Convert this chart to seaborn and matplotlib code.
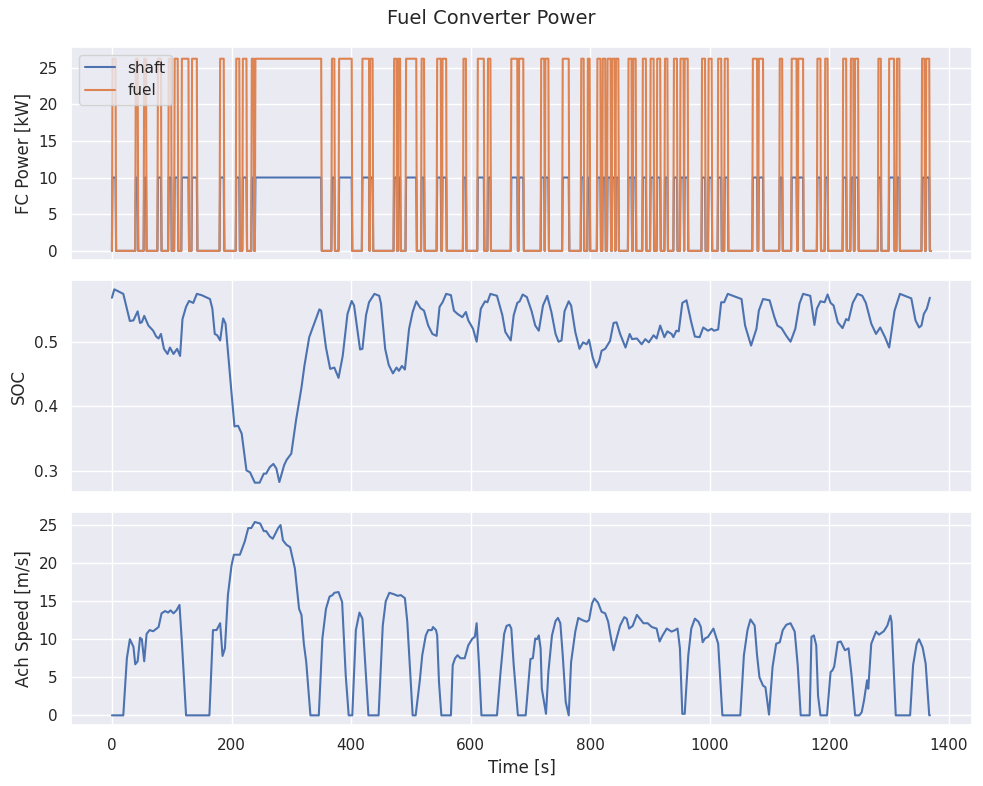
import numpy as np
import pandas as pd
import matplotlib
matplotlib.use("Agg")
import matplotlib.pyplot as plt
import seaborn as sns

# ---------------- data ----------------
# fuel converter on-intervals [s]
fc_on_start = [1, 40, 54, 77, 94.5, 105, 116.5, 134, 180.5, 208, 219, 234, 240,
               368, 380, 419, 432, 472, 479, 492, 518, 544, 553, 588, 612, 629, 668, 681,
               718, 725, 754, 785, 796, 812, 821, 829, 837, 843, 864, 872, 888, 901, 912,
               925, 940, 951, 958, 987, 998, 1014, 1025,
               1072, 1082, 1117, 1137, 1148, 1180, 1193, 1223, 1236, 1243, 1282, 1300,
               1313, 1355, 1362]
fc_on_end = [7, 44, 58, 83, 99.5, 110.5, 129, 143, 188, 214, 226, 238, 351,
             373, 402, 431, 437, 477, 483, 510, 523, 551, 560, 593, 623, 634, 679, 689,
             724, 731, 765, 790, 800, 818, 826, 835, 842, 848, 870, 877, 894, 907, 918,
             930, 946, 957, 964, 993, 1004, 1020, 1031,
             1080, 1090, 1122, 1146, 1157, 1186, 1198, 1229, 1241, 1249, 1287, 1309,
             1318, 1360, 1368]
fc_shaft_kw = 10.0
fc_fuel_kw = 26.2
t_end = 1370

soc_t = [0, 4, 19, 25, 30, 36, 43, 47, 50, 54, 61, 69, 74, 78, 82, 87, 93, 97, 103, 109,
         114, 118, 124, 129, 136, 142, 150, 164, 168, 172, 176, 181, 186, 190, 196, 200,
         205, 211, 217, 225, 231, 239, 247, 254, 258, 264, 270, 275, 280, 288, 292, 300,
         308, 317, 322, 330, 347, 350, 358, 365, 372, 379, 386, 394, 401, 405, 411, 415,
         419, 425, 430, 439, 447, 450, 457, 463, 470, 476, 480, 485, 490, 497, 503, 509,
         516, 522, 529, 536, 543, 548, 553, 559, 567, 572, 578, 586, 592, 596, 604, 610,
         617, 624, 628, 633, 644, 653, 658, 667, 672, 678, 682, 687, 694, 702, 708, 714,
         721, 728, 735, 742, 747, 752, 757, 764, 768, 775, 782, 788, 794, 798, 804, 810,
         815, 819, 825, 833, 839, 844, 850, 859, 866, 870, 878, 886, 892, 898, 906, 911,
         917, 924, 929, 936, 939, 944, 948, 954, 961, 969, 975, 983, 989, 997, 1003, 1007,
         1014, 1019, 1024, 1030, 1053, 1059, 1069, 1078, 1082, 1089, 1100, 1108, 1113,
         1120, 1128, 1135, 1143, 1150, 1156, 1168, 1175, 1179, 1185, 1192, 1197, 1202,
         1207, 1214, 1222, 1228, 1232, 1239, 1247, 1255, 1261, 1270, 1278, 1285, 1293,
         1300, 1309, 1318, 1337, 1344, 1350, 1354, 1358, 1363, 1368]
soc_v = [0.568, 0.581, 0.574, 0.551, 0.532, 0.533, 0.547, 0.529, 0.530, 0.540, 0.525, 0.517,
         0.508, 0.505, 0.512, 0.489, 0.481, 0.491, 0.481, 0.489, 0.478, 0.535, 0.554, 0.563,
         0.560, 0.574, 0.572, 0.566, 0.551, 0.512, 0.510, 0.502, 0.536, 0.528, 0.463, 0.421,
         0.369, 0.370, 0.358, 0.301, 0.298, 0.282, 0.282, 0.296, 0.296, 0.306, 0.311, 0.304,
         0.283, 0.309, 0.317, 0.327, 0.379, 0.429, 0.463, 0.507, 0.550, 0.548, 0.491, 0.458,
         0.460, 0.444, 0.478, 0.543, 0.563, 0.556, 0.515, 0.488, 0.489, 0.541, 0.561, 0.574,
         0.571, 0.559, 0.489, 0.464, 0.451, 0.460, 0.455, 0.4625, 0.457, 0.520, 0.546, 0.5625,
         0.552, 0.548, 0.525, 0.512, 0.509, 0.554, 0.561, 0.574, 0.572, 0.548, 0.543, 0.538,
         0.546, 0.533, 0.520, 0.500, 0.551, 0.5625, 0.561, 0.574, 0.571, 0.541, 0.515, 0.502,
         0.541, 0.560, 0.5625, 0.573, 0.569, 0.547, 0.525, 0.517, 0.556, 0.571, 0.546, 0.512,
         0.500, 0.502, 0.547, 0.5625, 0.556, 0.515, 0.489, 0.499, 0.496, 0.503, 0.476, 0.460,
         0.470, 0.486, 0.489, 0.501, 0.529, 0.530, 0.512, 0.491, 0.512, 0.504, 0.505, 0.496,
         0.504, 0.499, 0.510, 0.505, 0.525, 0.507, 0.516, 0.512, 0.507, 0.517, 0.516, 0.560,
         0.564, 0.530, 0.508, 0.507, 0.522, 0.517, 0.520, 0.517, 0.519, 0.561, 0.561, 0.574,
         0.566, 0.525, 0.494, 0.520, 0.548, 0.566, 0.564, 0.538, 0.525, 0.521, 0.509, 0.500,
         0.520, 0.559, 0.574, 0.571, 0.526, 0.551, 0.5625, 0.561, 0.573, 0.560, 0.556, 0.530,
         0.521, 0.535, 0.533, 0.560, 0.574, 0.571, 0.560, 0.528, 0.512, 0.522, 0.507, 0.491,
         0.548, 0.574, 0.567, 0.533, 0.522, 0.525, 0.543, 0.551, 0.568]

speed_t = [0, 19, 25, 30, 36, 39, 43, 47, 50, 54, 58, 63, 69, 78, 83, 89, 94, 98, 103, 108,
           113, 117, 124, 163, 169, 175, 181, 185, 189, 194, 200, 204, 214, 222, 228, 233,
           239, 248, 254, 258, 264, 269, 278, 282, 286, 292, 298, 306, 313, 317, 321, 325,
           332, 346, 352, 358, 364, 369, 372, 379, 385, 391, 396, 402, 408, 414, 419, 429,
           446, 453, 458, 464, 472, 478, 483, 490, 494, 503, 508, 515, 519, 525, 529, 535,
           537, 542, 544, 547, 551, 567, 570, 574, 578, 583, 590, 596, 603, 607, 610, 614,
           618, 644, 650, 656, 660, 665, 668, 672, 679, 692, 700, 704, 708, 711, 714, 717,
           719, 726, 730, 736, 742, 746, 750, 754, 759, 764, 768, 775, 780, 787, 794, 798,
           803, 807, 813, 819, 825, 830, 836, 839, 844, 850, 857, 861, 865, 871, 878, 883,
           889, 896, 903, 911, 916, 921, 928, 936, 942, 946, 950, 954, 958, 964, 969, 975,
           981, 985, 988, 992, 997, 1006, 1014, 1021, 1051, 1057, 1063, 1068, 1075, 1079,
           1083, 1089, 1093, 1099, 1105, 1111, 1117, 1122, 1128, 1135, 1142, 1147, 1152,
           1167, 1170, 1174, 1178, 1181, 1185, 1196, 1202, 1205, 1208, 1214, 1219, 1226,
           1232, 1237, 1243, 1250, 1254, 1258, 1263, 1265, 1270, 1278, 1283, 1291, 1297,
           1302, 1304, 1311, 1335, 1340, 1346, 1350, 1356, 1361, 1367, 1368]
speed_v = [0, 0, 7.5, 10.0, 9.0, 6.7, 7.1, 10.2, 10.0, 7.1, 10.7, 11.2, 11.05, 11.6, 13.4,
           13.7, 13.5, 13.8, 13.4, 13.8, 14.5, 9.6, 0, 0, 11.2, 11.2, 12.1, 7.8, 8.8, 15.8,
           19.7, 21.1, 21.1, 22.8, 24.6, 24.6, 25.4, 25.2, 24.2, 24.2, 23.5, 23.2, 24.6,
           25.0, 23.0, 22.4, 22.1, 19.3, 14.0, 13.2, 9.4, 7.0, 0, 0, 10.1, 14.0, 15.6, 15.8,
           16.1, 16.2, 14.9, 5.3, 0, 0, 11.2, 13.5, 12.7, 0, 0, 11.8, 15.0, 16.1, 15.9, 15.7,
           15.8, 15.4, 12.3, 0, 0, 4.6, 7.9, 10.5, 11.2, 11.2, 11.6, 11.2, 10.5, 4.4, 0, 0,
           6.6, 7.5, 7.9, 7.5, 7.5, 9.2, 10.1, 10.3, 12.1, 6.6, 0, 0, 5.7, 10.7, 11.75, 11.9,
           11.4, 6.6, 0, 0, 7.4, 7.5, 10.1, 10.0, 10.5, 8.8, 3.5, 0.2, 5.7, 10.5, 12.4, 12.8,
           12.1, 7.9, 1.75, 0, 7.0, 11.0, 12.8, 12.5, 12.3, 12.5, 14.7, 15.35, 14.8, 13.6,
           13.4, 12.3, 9.6, 8.55, 10.1, 11.8, 12.9, 12.7, 11.4, 11.75, 13.2, 12.7, 12.1, 12.1,
           11.6, 11.4, 9.7, 10.5, 11.4, 11.0, 11.2, 11.4, 8.8, 0.2, 0.2, 7.9, 11.4, 12.7,
           12.3, 11.6, 9.6, 10.1, 10.3, 11.4, 9.4, 0, 0, 7.9, 11.2, 12.6, 11.8, 7.9, 5.0, 3.9,
           3.7, 0.1, 6.4, 9.4, 9.6, 11.2, 11.9, 12.1, 11.0, 6.6, 0, 0, 10.3, 10.5, 9.2, 2.6,
           0, 0, 5.7, 5.9, 6.4, 9.6, 9.7, 8.55, 8.8, 5.3, 0, 0, 0.4, 2.0, 4.6, 3.5, 9.4, 11.0,
           10.6, 11.05, 11.8, 13.1, 12.3, 0, 0, 6.6, 9.4, 10.0, 8.9, 6.8, 0, 0]

# ---------------- build FC step signal from on-intervals ----------------
t = np.arange(0, t_end + 1, 1.0)
on = np.zeros_like(t)
for s, e in zip(fc_on_start, fc_on_end):
    on[(t >= s) & (t < e)] = 1.0
fc_df = pd.DataFrame({"t": t, "shaft": on * fc_shaft_kw, "fuel": on * fc_fuel_kw})

# ---------------- plot ----------------
sns.set_theme(style="darkgrid")
fig, axes = plt.subplots(3, 1, sharex=True, figsize=(9.83, 7.86), dpi=100)
fig.subplots_adjust(left=0.0722, right=0.9888, top=0.9402, bottom=0.0776, hspace=0.094)

ax = axes[0]
sns.lineplot(data=fc_df, x="t", y="shaft", ax=ax, label="shaft")
sns.lineplot(data=fc_df, x="t", y="fuel", ax=ax, label="fuel")
ax.set_ylim(-1.2, 27.8)
ax.set_ylabel("FC Power [kW]")
ax.set_xlabel("")
ax.legend(loc="upper left")

ax = axes[1]
sns.lineplot(x=soc_t, y=soc_v, ax=ax)
ax.set_ylabel("SOC")
ax.set_xlabel("")

ax = axes[2]
sns.lineplot(x=speed_t, y=speed_v, ax=ax)
ax.set_ylabel("Ach Speed [m/s]")
ax.set_xlabel("Time [s]")

fig.suptitle("Fuel Converter Power", fontsize=14, y=0.988)
fig.savefig("out.png", dpi=100)
